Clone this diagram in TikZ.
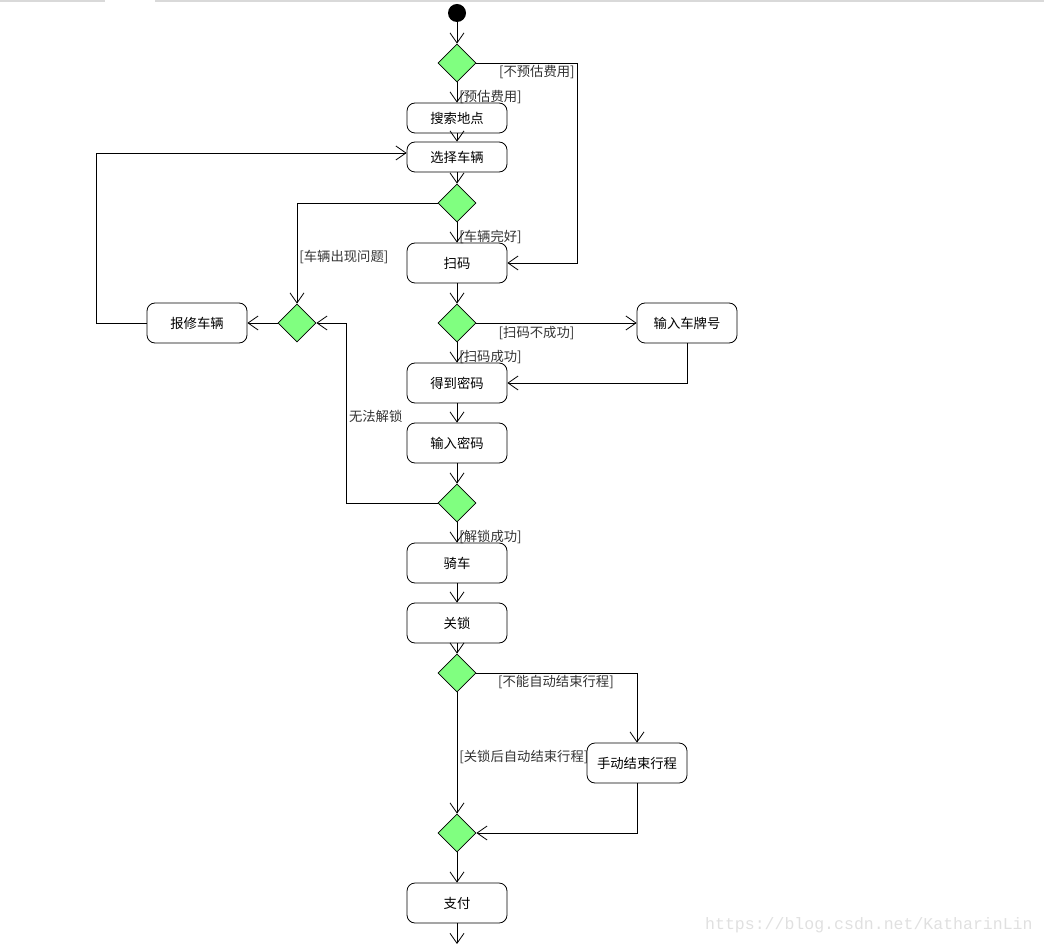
\documentclass[tikz,border=0pt]{standalone}
\usepackage{fontspec}
\newfontfamily\cjk{Noto Sans CJK SC}
\newfontfamily\wmfont{Liberation Mono}
\usetikzlibrary{arrows.meta,shapes.geometric,calc}

\tikzset{
  act/.style={draw, rounded corners=6pt, minimum width=75pt, minimum height=30pt, inner sep=0pt, fill=white},
  smallact/.style={act, minimum height=22.5pt},
  choice/.style={draw, diamond, fill=green!50!white, minimum size=28.5pt, inner sep=0pt},
  flow/.style={-{Straight Barb[length=7.5pt,width=10.5pt]}},
  guard/.style={inner sep=1.5pt, text=black!80},
  onbox/.style={guard, pos=1, anchor=south west, yshift=-2.5pt}
}

\begin{document}
\begin{tikzpicture}[x=0.75pt, y=-0.75pt, line width=0.6pt, font=\cjk\fontsize{10}{12}\selectfont]
\useasboundingbox (0,0) rectangle (1044,944);
\draw[black!15, line width=1pt] (0,1) -- (105,1) (155,1) -- (1044,1);

% Start and main column
\node[circle, fill=black, minimum size=13.5pt, inner sep=0pt] (start) at (457,13) {};
\node[choice] (d1) at (457,63) {};
\node[smallact] (search) at (457,118) {搜索地点};
\node[smallact] (choose) at (457,157) {选择车辆};
\node[choice] (d2) at (457,203) {};
\node[act] (scan) at (457,263) {扫码};
\node[choice] (d3) at (457,323) {};
\node[act] (getpw) at (457,383) {得到密码};
\node[act] (inputpw) at (457,443) {输入密码};
\node[choice] (d4) at (457,503) {};
\node[act] (ride) at (457,563) {骑车};
\node[act] (lock) at (457,623) {关锁};
\node[choice] (d6) at (457,673) {};
\node[choice] (d7) at (457,833) {};
\node[act] (pay) at (457,903) {支付};
\coordinate (out) at (457,944);

% Side nodes
\node[act] (plate) at (687,323) {输入车牌号};
\node[choice] (d5) at (297,323) {};
\node[act] (repair) at (197,323) {报修车辆};
\node[act] (manual) at (637,763) {手动结束行程};

% Main flow
\draw[flow] (start) -- (d1);
\draw[flow] (d1) -- node[onbox] {[预估费用]} (search);
\draw[flow] (search) -- (choose);
\draw[flow] (choose) -- (d2);
\draw[flow] (d2) -- node[onbox] {[车辆完好]} (scan);
\draw[flow] (scan) -- (d3);
\draw[flow] (d3) -- node[onbox] {[扫码成功]} (getpw);
\draw[flow] (getpw) -- (inputpw);
\draw[flow] (inputpw) -- (d4);
\draw[flow] (d4) -- node[onbox] {[解锁成功]} (ride);
\draw[flow] (ride) -- (lock);
\draw[flow] (lock) -- (d6);
\draw[flow] (d6) -- node[guard, pos=0.53, anchor=west] {[关锁后自动结束行程]} (d7);
\draw[flow] (d7) -- (pay);
\draw[flow] (pay) -- (out);

% Branches
\draw[flow] (d1.east) -- node[guard, pos=0.2, anchor=north west] {[不预估费用]} ++(101,0) |- (scan.east);
\draw[flow] (d2.west) -| node[guard, pos=0.77, anchor=west] {[车辆出现问题]} (d5.north);
\draw[flow] (d5) -- (repair);
\draw[flow] (repair.west) -- ++(-50,0) |- ($(choose.west)+(0,-4)$);
\draw[flow] (d3) -- node[guard, pos=0.124, anchor=north west, yshift=-1pt] {[扫码不成功]} (plate);
\draw[flow] (plate.south) |- (getpw.east);
\draw[flow] (d4.west) -- ++(-91,0) |- node[guard, pos=0.24, anchor=west] {无法解锁} (d5.east);
\draw[flow] (d6.east) -| node[guard, pos=0.06, anchor=north west] {[不能自动结束行程]} (manual.north);
\draw[flow] (manual.south) |- (d7.east);

% Watermark
\node[text=black!12, font=\wmfont\fontsize{12.4}{14}\selectfont, anchor=east, inner sep=0pt] (wm) at (1033,925) {https://blog.csdn.net/KatharinLin};
\end{tikzpicture}
\end{document}
